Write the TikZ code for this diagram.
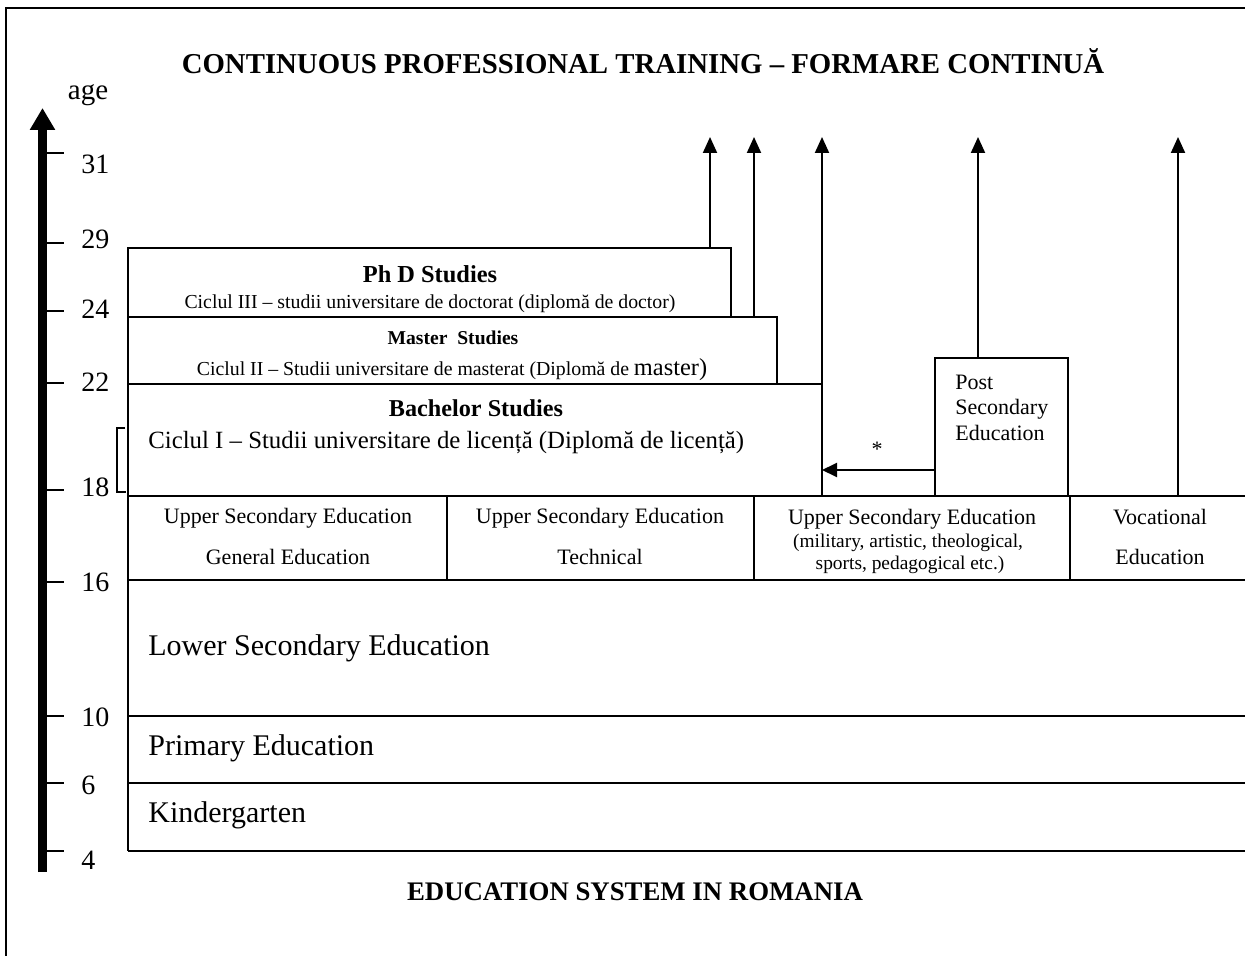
\documentclass[tikz,border=0pt]{standalone}
\usepackage{fontspec}
\setmainfont{Liberation Serif}
\usetikzlibrary{arrows.meta}
\newcommand\fsz[1]{\fontsize{#1}{#1}\selectfont}
\begin{document}
\begin{tikzpicture}[x=0.5pt,y=-0.5pt,
  box/.style={draw,line width=1pt,inner sep=0pt,outer sep=0pt,anchor=north west},
  lbl/.style={inner sep=0pt,anchor=base},
  lblw/.style={inner sep=0pt,anchor=base west},
  grid/.style={line width=1pt},
  tick/.style={line width=1pt},
  arr/.style={line width=1pt,-{Triangle[length=8pt,width=7pt]}},
  harr/.style={line width=1pt,-{Triangle[length=7.5pt,width=7pt]}},
]
\useasboundingbox (0,0) rectangle (1245,956);

% frame
\draw[line width=0.8pt] (6,956) -- (6,8) -- (1245,8);

% titles
\node[lbl,font=\bfseries\fsz{14.4}] (title) at (643,74) {CONTINUOUS PROFESSIONAL TRAINING – FORMARE CONTINUĂ};
\node[lbl,font=\bfseries\fsz{13.4}] (btitle) at (635,900) {EDUCATION SYSTEM IN ROMANIA};

% age axis
\coordinate (axb) at (42.5,872);
\coordinate (axt) at (42.5,108);
\draw[line width=4.5pt,-{Triangle[length=11pt,width=12pt]}] (axb) -- (axt);
\node[lbl,font=\fsz{14.5}] (age) at (88,100) {age};
\foreach \v/\ty/\by in {31/153/174,29/243/249,24/311/319,22/383/392,18/490/496,16/582/591,10/716/726,6/783/794,4/851/869}{
  \draw[tick] (47,\ty) -- (64,\ty);
  \node[lblw,font=\fsz{14}] (n\v) at (81,\by) {\v};
}

% bracket
\draw[line width=0.6pt] (125,428) -- (117,428) -- (117,492) -- (126,492);

% university boxes
\node[box,minimum width=301.5pt,minimum height=34.5pt] (phd) at (128,248) {};
\node[box,minimum width=324.5pt,minimum height=33.5pt] (mas) at (128,317) {};
\node[box,minimum width=347pt,minimum height=56pt] (bach) at (128,384) {};
\node[box,minimum width=66.5pt,minimum height=69pt] (post) at (935,358) {};

\node[lbl,font=\bfseries\fsz{12.2}] (phdT) at (430,283) {Ph D Studies};
\node[lbl,font=\fsz{9.9}] (phdS) at (430,309) {Ciclul III – studii universitare de doctorat (diplomă de doctor)};
\node[lbl,font=\bfseries\fsz{9.8}] (masT) at (453,345) {Master\ \ Studies};
\node[lbl,font=\fsz{9.9}] (masS) at (452,376) {Ciclul II – Studii universitare de masterat (Diplomă de {\fsz{12.2}master)}};
\node[lbl,font=\bfseries\fsz{12.1}] (bachT) at (476,416) {Bachelor Studies};
\node[lblw,font=\fsz{12.4}] (bachS) at (148,448) {Ciclul I – Studii universitare de licență (Diplomă de licență)};

\node[lblw,font=\fsz{11}] (postA) at (955,390) {Post};
\node[lblw,font=\fsz{11}] (postB) at (955,415) {Secondary};
\node[lblw,font=\fsz{11}] (postC) at (955,440) {Education};

% upper secondary row
\coordinate (rowR) at (1245,496);
\draw[grid] (bach.south east) -- (rowR);
\draw[grid] (128,496) -- (128,851);
\foreach \x in {447,754,1070}{ \draw[grid] (\x,496) -- (\x,580); }
\foreach \y in {580,716,783,851}{ \draw[grid] (128,\y) -- (1245,\y); }

\node[lbl,font=\fsz{11}] (u1a) at (288,523) {Upper Secondary Education};
\node[lbl,font=\fsz{11}] (u1b) at (288,564) {General Education};
\node[lbl,font=\fsz{11}] (u2a) at (600,523) {Upper Secondary Education};
\node[lbl,font=\fsz{11}] (u2b) at (600,564) {Technical};
\node[lbl,font=\fsz{11}] (u3a) at (912,524) {Upper Secondary Education};
\node[lbl,font=\fsz{9.7}] (u3b) at (908,547) {(military, artistic, theological,};
\node[lbl,font=\fsz{9.7}] (u3c) at (910,569) {sports, pedagogical etc.)};
\node[lbl,font=\fsz{11}] (u4a) at (1160,524) {Vocational};
\node[lbl,font=\fsz{11}] (u4b) at (1160,564) {Education};

\node[lblw,font=\fsz{15}] (low) at (148,655) {Lower Secondary Education};
\node[lblw,font=\fsz{15}] (prim) at (148,755) {Primary Education};
\node[lblw,font=\fsz{15}] (kind) at (148,822) {Kindergarten};

% arrows to continuous training
\coordinate (a1) at (710,137);
\coordinate (a2) at (754,137);
\coordinate (a4) at (978,137);
\coordinate (a5) at (1178,137);
\coordinate (v5) at (1178,496);
\draw[arr] (phd.north -| a1) -- (a1);
\draw[arr] (mas.north -| a2) -- (a2);
\draw[arr] (bach.north east) -- (bach.north east |- a1);
\draw[arr] (post.north -| a4) -- (a4);
\draw[arr] (v5) -- (a5);

% post secondary to bachelor
\coordinate (hy) at (0,470);
\draw[harr] (post.west |- hy) -- (bach.east |- hy);
\node[font=\fsz{11},inner sep=0pt] (star) at (877,449) {*};
\end{tikzpicture}
\end{document}
